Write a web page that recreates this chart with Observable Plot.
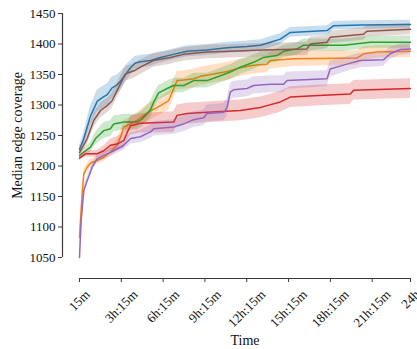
<!DOCTYPE html>
<html><head><meta charset="utf-8">
<script src="https://cdn.jsdelivr.net/npm/d3@7"></script>
<script src="https://cdn.jsdelivr.net/npm/@observablehq/plot@0.6"></script>
<style>body{margin:0;background:#fff} svg, svg text{font-family:"Liberation Serif", serif !important}</style>
</head><body><div id="chart"></div>
<script>
// x in hours since start; each row: [hour, median, band half-width]
const tickHours = [0.25, 3.25, 6.25, 9.25, 12.25, 15.25, 18.25, 21.25, 24];
const tickLabels = ["15m", "3h:15m", "6h:15m", "9h:15m", "12h:15m", "15h:15m", "18h:15m", "21h:15m", "24h"];
const yTicks = [1050, 1100, 1150, 1200, 1250, 1300, 1350, 1400, 1450];

const seriesNames = ["blue", "orange", "green", "red", "purple", "brown"];
const seriesColors = ["#1f77b4", "#ff7f0e", "#2ca02c", "#d62728", "#9467bd", "#8c564b"];

const blue = [[0.25,1227,6],[0.56,1245,10],[1.04,1282,16],[1.52,1306,18],[1.88,1312,18],[2.24,1317,18],[2.59,1328,18],[2.95,1333,16],[3.19,1339,15],[3.55,1350,14],[3.91,1361,12],[4.26,1369,11],[4.62,1371,10],[5.34,1373,10],[6.06,1378,9],[6.99,1383,9],[7.97,1388,9],[9.40,1390,9],[10.84,1394,9],[12.27,1396,9],[13.23,1398,9],[13.94,1403,9],[14.66,1408,9],[15.38,1419,8],[18.01,1422,8],[18.49,1430,7],[20.39,1431,7],[24,1432,7]];
const orange = [[0.25,1083,8],[0.44,1154,8],[0.56,1187,7],[0.80,1198,6],[1.04,1205,6],[1.52,1209,6],[1.99,1214,7],[2.47,1223,8],[2.95,1234,9],[3.19,1247,10],[3.43,1264,10],[3.91,1269,11],[4.39,1275,12],[4.86,1283,13],[5.34,1290,14],[6.06,1299,15],[6.65,1307,15],[7.01,1327,15],[7.25,1340,15],[7.73,1341,15],[8.44,1343,15],[8.92,1347,15],[9.88,1351,15],[10.84,1355,15],[11.79,1361,14],[12.74,1365,14],[13.70,1367,14],[13.94,1373,14],[15.61,1376,13],[20.16,1377,12],[20.63,1384,11],[21.59,1387,10],[24,1388,10]];
const green = [[0.25,1217,4],[0.68,1225,6],[1.04,1231,8],[1.40,1245,10],[1.76,1253,12],[1.99,1258,13],[2.47,1261,13],[2.71,1269,13],[3.43,1272,13],[4.39,1272,13],[4.74,1277,13],[4.98,1283,13],[5.34,1292,13],[5.58,1305,13],[5.93,1320,12],[6.54,1327,12],[7.01,1332,12],[7.73,1332,12],[8.44,1340,12],[9.40,1340,12],[10.36,1348,12],[11.07,1354,12],[11.79,1362,12],[12.74,1370,12],[13.46,1378,11],[14.42,1381,11],[14.90,1388,10],[15.86,1392,10],[16.33,1398,10],[19.20,1398,10],[21.11,1403,10],[24,1403,10]];
const red = [[0.25,1213,4],[0.68,1220,5],[1.52,1220,6],[1.99,1225,8],[2.47,1234,10],[2.95,1236,12],[3.43,1242,13],[3.67,1255,14],[3.91,1266,15],[4.62,1270,16],[7.01,1272,17],[7.25,1283,17],[7.97,1286,17],[9.40,1288,17],[11.79,1291,17],[13.23,1296,17],[13.70,1299,17],[14.66,1305,17],[15.38,1313,17],[17.77,1316,17],[19.68,1318,17],[19.92,1324,16],[24,1327,16]];
const purple = [[0.25,1050,10],[0.37,1111,8],[0.56,1160,7],[0.80,1176,6],[1.16,1198,6],[1.52,1212,6],[1.99,1217,6],[2.71,1225,7],[3.43,1234,8],[3.91,1245,9],[4.62,1248,10],[5.34,1256,11],[5.58,1261,12],[7.01,1264,12],[7.73,1269,13],[8.44,1276,13],[9.16,1279,13],[9.40,1286,14],[10.59,1288,14],[10.84,1296,14],[11.07,1321,14],[11.31,1325,14],[12.27,1327,14],[12.74,1332,14],[13.94,1334,14],[14.90,1334,14],[15.14,1340,14],[18.01,1343,13],[18.24,1359,13],[19.44,1367,12],[20.39,1373,12],[22.06,1374,11],[22.54,1384,10],[23.26,1391,9],[24,1392,9]];
const brown = [[0.25,1222,6],[0.80,1245,10],[1.28,1275,12],[1.76,1291,12],[2.24,1299,12],[2.59,1307,12],[2.95,1324,12],[3.31,1340,12],[3.55,1351,12],[3.91,1354,12],[4.26,1357,12],[4.62,1362,12],[5.55,1373,11],[6.77,1378,11],[7.71,1383,11],[9.40,1387,11],[11.07,1388,11],[13.44,1390,11],[16.57,1392,11],[16.81,1400,11],[18.01,1403,11],[18.24,1411,10],[20.63,1416,10],[20.87,1421,9],[24,1424,9]];

const seriesData = [blue, orange, green, red, purple, brown];
const font = "'Liberation Serif', serif";

const marks = [];
seriesData.forEach((arr, i) => {
  const rows = arr.map(([h, v, s]) => ({series: seriesNames[i], h, v, lo: v - s, hi: v + s}));
  marks.push(Plot.areaY(rows, {x: "h", y1: "lo", y2: "hi", fill: seriesColors[i], fillOpacity: 0.24}));
  marks.push(Plot.lineY(rows, {x: "h", y: "v", stroke: seriesColors[i], strokeWidth: 1.5}));
});

const axisColor = "#3a3a3a";
marks.push(
  Plot.axisY({ticks: yTicks, tickFormat: d => String(d), dx: -17, tickSize: 4, tickPadding: 3, label: null, stroke: axisColor, fill: "#111", fontSize: 13, fontFamily: font}),
  Plot.ruleX([tickHours[0]], {y1: yTicks[0], y2: yTicks[yTicks.length - 1], dx: -17, stroke: axisColor, strokeWidth: 1.2}),
  Plot.axisX({ticks: tickHours, tickFormat: () => "", dy: 21, tickSize: 4, label: null, stroke: axisColor}),
  Plot.ruleY([yTicks[0]], {x1: tickHours[0], x2: tickHours[tickHours.length - 1], dy: 21, stroke: axisColor, strokeWidth: 1.2}),
  Plot.text(["Time"], {frameAnchor: "bottom", dy: 83, fontSize: 14, fill: "#111", lineAnchor: "middle", fontFamily: font}),
  Plot.text(["Median edge coverage"], {frameAnchor: "left", dx: -62, rotate: -90, fontSize: 14, fill: "#111", textAnchor: "middle", lineAnchor: "middle", fontFamily: font})
);

// rotated tick labels, bounding box centred under each tick (matplotlib style)
const ctx = document.createElement("canvas").getContext("2d");
ctx.font = "13px 'Liberation Serif'";
const lineH = 11;
tickHours.forEach((h, i) => {
  const w = ctx.measureText(tickLabels[i]).width;
  const half = (w + lineH) / 2 * Math.SQRT1_2;
  marks.push(Plot.text([{h, label: tickLabels[i]}], {
    x: "h", text: "label", frameAnchor: "bottom", rotate: -45,
    textAnchor: "middle", lineAnchor: "middle",
    dy: 31 + half, fontSize: 13, fill: "#111", fontFamily: font
  }));
});

const chart = Plot.plot({
  width: 417, height: 349,
  marginLeft: 79, marginRight: 7, marginTop: 13, marginBottom: 92,
  style: {fontFamily: font, fontSize: "13px", background: "white", overflow: "visible"},
  x: {domain: [tickHours[0], tickHours[tickHours.length - 1]]},
  y: {domain: [yTicks[0], yTicks[yTicks.length - 1]]},
  marks
});
document.getElementById("chart").appendChild(chart);
</script>
</body></html>
